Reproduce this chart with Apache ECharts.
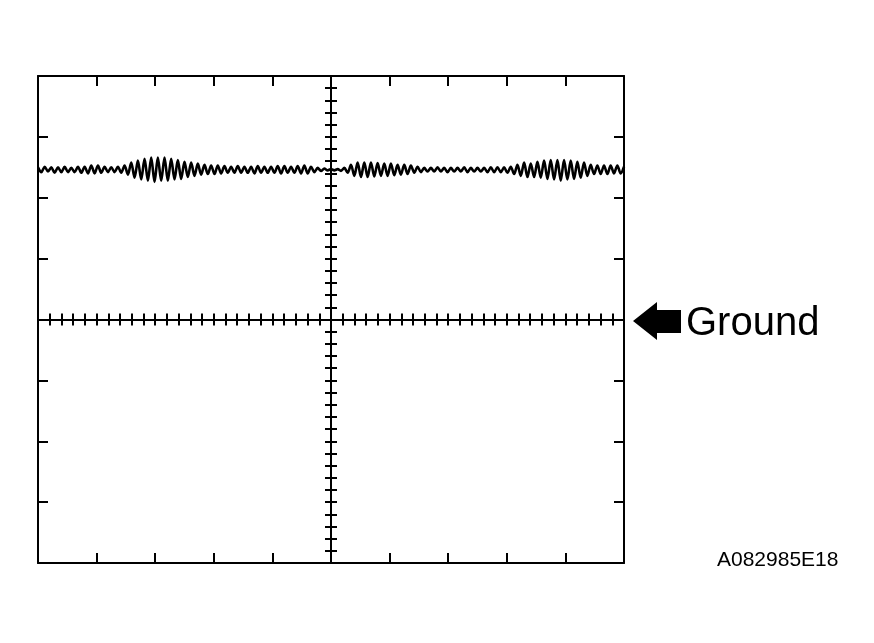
<!DOCTYPE html>
<html>
<head>
<meta charset="utf-8">
<script src="https://cdn.jsdelivr.net/npm/echarts@6/dist/echarts.min.js"></script>
<style>
html,body{margin:0;padding:0;background:#fff;}
#chart{width:874px;height:643px;}
</style>
</head>
<body>
<div id="chart"></div>
<script>
// Graticule: 10 horizontal divisions, 8 vertical divisions, 5 minor ticks per division
const xDivisions = 10;
const yDivisions = 8;
const minorPerDivision = 5;

// Waveform samples (vertical position in divisions above ground), equally spaced in time
const waveDiv = [
  2.50,2.42,2.51,2.43,2.50,2.41,2.50,2.42,2.51,2.42,
  2.49,2.42,2.51,2.41,2.51,2.40,2.53,2.40,2.53,2.41,
  2.51,2.42,2.50,2.42,2.51,2.41,2.53,2.38,2.58,2.33,
  2.61,2.30,2.64,2.28,2.66,2.26,2.66,2.28,2.66,2.28,
  2.64,2.30,2.62,2.31,2.59,2.34,2.58,2.36,2.56,2.38,
  2.54,2.39,2.53,2.39,2.53,2.40,2.52,2.41,2.51,2.41,
  2.52,2.41,2.51,2.41,2.51,2.40,2.52,2.41,2.51,2.41,
  2.51,2.41,2.52,2.40,2.52,2.41,2.51,2.41,2.52,2.40,
  2.53,2.40,2.51,2.42,2.49,2.44,2.48,2.45,2.47,2.45,
  2.47,2.44,2.49,2.41,2.54,2.36,2.58,2.34,2.58,2.34,
  2.58,2.35,2.57,2.36,2.56,2.36,2.56,2.37,2.54,2.38,
  2.54,2.39,2.53,2.41,2.51,2.42,2.49,2.43,2.49,2.43,
  2.50,2.43,2.49,2.42,2.49,2.43,2.49,2.43,2.50,2.42,
  2.49,2.43,2.49,2.43,2.49,2.42,2.50,2.42,2.50,2.42,
  2.50,2.41,2.51,2.39,2.54,2.36,2.58,2.34,2.56,2.34,
  2.59,2.33,2.61,2.31,2.62,2.30,2.62,2.28,2.62,2.30,
  2.61,2.31,2.59,2.33,2.58,2.36,2.54,2.39,2.53,2.39,
  2.53,2.39,2.53,2.40,2.53,2.40,2.51
];

const groundLabel = 'Ground';
const figureId = 'A082985E18';

const sampleStep = xDivisions / (waveDiv.length - 1);
const waveData = waveDiv.map((v, i) => [i * sampleStep, v]);

const chart = echarts.init(document.getElementById('chart'), null, {renderer: 'canvas'});

const black = '#000';
const gridRect = {left: 38, top: 76, width: 586, height: 487};

function edgeX(position) {
  return {
    type: 'value', gridIndex: 0, position: position,
    min: 0, max: xDivisions, interval: 1,
    axisLine: {show: true, onZero: false, lineStyle: {color: black, width: 2}},
    axisTick: {show: true, inside: true, length: 10, lineStyle: {color: black, width: 2}},
    axisLabel: {show: false}, splitLine: {show: false}
  };
}
function edgeY(position) {
  return {
    type: 'value', gridIndex: 0, position: position,
    min: -yDivisions / 2, max: yDivisions / 2, interval: 1,
    axisLine: {show: true, onZero: false, lineStyle: {color: black, width: 2}},
    axisTick: {show: true, inside: true, length: 10, lineStyle: {color: black, width: 2}},
    axisLabel: {show: false}, splitLine: {show: false}
  };
}
function centerX(gridIndex, inside) {
  return {
    type: 'value', gridIndex: gridIndex, position: 'bottom',
    min: -xDivisions / 2, max: xDivisions / 2, interval: 1 / minorPerDivision,
    axisLine: {show: true, onZero: true, lineStyle: {color: black, width: 2}},
    axisTick: {show: true, inside: inside, length: 6, lineStyle: {color: black, width: 2}},
    axisLabel: {show: false}, splitLine: {show: false}
  };
}
function centerY(gridIndex, inside) {
  return {
    type: 'value', gridIndex: gridIndex, position: 'left',
    min: -yDivisions / 2, max: yDivisions / 2, interval: 1 / minorPerDivision,
    axisLine: {show: true, onZero: true, lineStyle: {color: black, width: 2}},
    axisTick: {show: true, inside: inside, length: 6, lineStyle: {color: black, width: 2}},
    axisLabel: {show: false}, splitLine: {show: false}
  };
}

const option = {
  animation: false,
  backgroundColor: '#fff',
  grid: [
    Object.assign({show: false}, gridRect),
    Object.assign({show: false}, gridRect),
    Object.assign({show: false}, gridRect)
  ],
  xAxis: [edgeX('bottom'), edgeX('top'), centerX(1, false), centerX(2, true)],
  yAxis: [edgeY('left'), edgeY('right'), centerY(1, false), centerY(2, true)],
  series: [{
    type: 'line',
    xAxisIndex: 0, yAxisIndex: 0,
    data: waveData,
    showSymbol: false,
    smooth: 0.3,
    lineStyle: {color: black, width: 2.6},
    z: 5
  }],
  graphic: [
    {
      type: 'polygon',
      shape: {points: [[633,321],[657,302],[657,310],[681,310],[681,333],[657,333],[657,340]]},
      style: {fill: black}
    },
    {
      type: 'text', left: 686, top: 304,
      style: {text: groundLabel, fontFamily: 'Liberation Sans, Arial, sans-serif', fontSize: 40, fill: black}
    },
    {
      type: 'text', left: 717, top: 550,
      style: {text: figureId, fontFamily: 'Liberation Sans, Arial, sans-serif', fontSize: 21, fill: black}
    }
  ]
};

chart.setOption(option);
</script>
</body>
</html>
